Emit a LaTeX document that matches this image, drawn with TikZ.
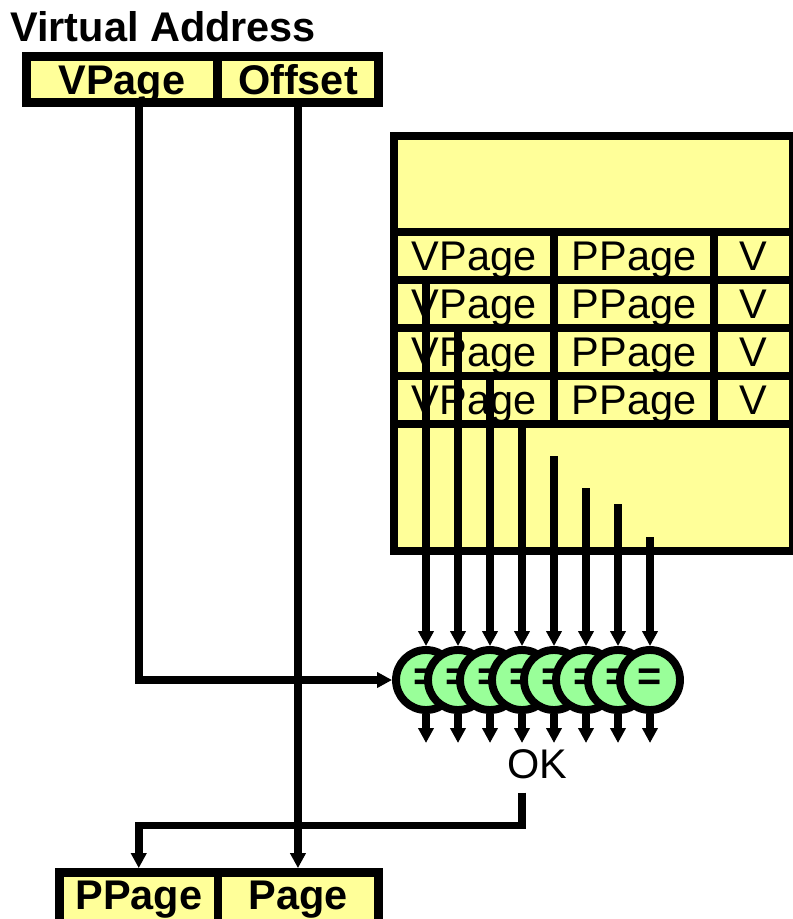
\documentclass[tikz,border=0pt]{standalone}
\usepackage{fontspec}
\setmainfont{Liberation Sans}
\usetikzlibrary{arrows.meta,positioning}
\definecolor{tyellow}{HTML}{FFFF99}
\definecolor{cgreen}{HTML}{99FF99}
\newcommand{\bigtxt}{\fontsize{23.6pt}{28pt}\selectfont}

\begin{document}
\begin{tikzpicture}[
  x=0.02cm, y=-0.02cm,
  cell/.style={draw, fill=tyellow, line width=4.5pt, inner sep=0pt, outer sep=0pt,
    font=\bigtxt, text height=0.59cm, text depth=0pt, minimum height=0.96cm},
  cellb/.style={cell, line width=5pt, font=\bigtxt\bfseries, minimum height=0.92cm},
  cmp/.style={circle, draw, fill=cgreen, line width=4.5pt, minimum size=1.2cm,
    inner sep=0pt, font=\bigtxt\bfseries},
  lbl/.style={font=\bigtxt, text height=0.59cm, text depth=0pt},
  conn/.style={line width=4.4pt, -{Triangle[length=0.3cm,width=0.3cm]}}
]
\path[use as bounding box, clip] (0,0) rectangle (793,919);

% virtual address
\node[lbl, font=\bigtxt\bfseries, anchor=west, inner sep=0pt] (va) at (10,26.3) {Virtual Address};
\node[cellb, minimum width=3.83cm] (vpage) at (122,79.5) {VPage};
\node[cellb, minimum width=3.21cm, right=0pt of vpage] (offset) {Offset};

% TLB
\node[draw, fill=tyellow, line width=4.5pt, minimum width=7.98cm, minimum height=8.3cm] (tlb) at (593.5,343.5) {};
\foreach \r in {1,...,4} {
  \node[cell, minimum width=3.2cm] (vp\r) at (474,{208+48*\r}) {VPage};
  \node[cell, minimum width=3.2cm, right=0pt of vp\r] (pp\r) {PPage};
  \node[cell, minimum width=1.58cm, right=0pt of pp\r] (v\r) {V};
}

% comparators
\foreach \i in {1,...,8}
  \node[cmp] (cmp\i) at ({394+32*\i},680) {=};

\coordinate (t5) at (554,456);
\coordinate (t6) at (586,488);
\coordinate (t7) at (618,504);
\coordinate (t8) at (650,537);
\foreach \i in {1,...,8}
  \coordinate (o\i) at ({394+32*\i},743);

\draw[conn] (vp2.north -| cmp1) -- (cmp1.north);
\draw[conn] (vp3.north -| cmp2) -- (cmp2.north);
\draw[conn] (vp4.north -| cmp3) -- (cmp3.north);
\draw[conn] (vp4.south -| cmp4) -- (cmp4.north);
\foreach \i in {5,...,8}
  \draw[conn] (t\i) -- (cmp\i.north);
\foreach \i in {1,...,8}
  \draw[conn] (cmp\i.south) -- (o\i);

\draw[conn] ([xshift=0.34cm]vpage.south) |- (cmp1.west);

\node[lbl, inner sep=0.27cm] (ok) at (537,764) {OK};

% physical address
\node[cellb, minimum width=3.17cm, minimum height=1.1cm, text depth=0.22cm] (ppage) at (138.75,900) {PPage};
\node[cellb, minimum width=3.21cm, minimum height=1.1cm, text depth=0.22cm, right=0pt of ppage] (page) {Page};

\draw[conn, shorten >=2.5pt] (offset.south) -- (offset.south |- page.north);
\draw[conn, shorten >=2.5pt] (ok.south -| cmp4) -- ++(0,33) -| (ppage.north);
\end{tikzpicture}
\end{document}
